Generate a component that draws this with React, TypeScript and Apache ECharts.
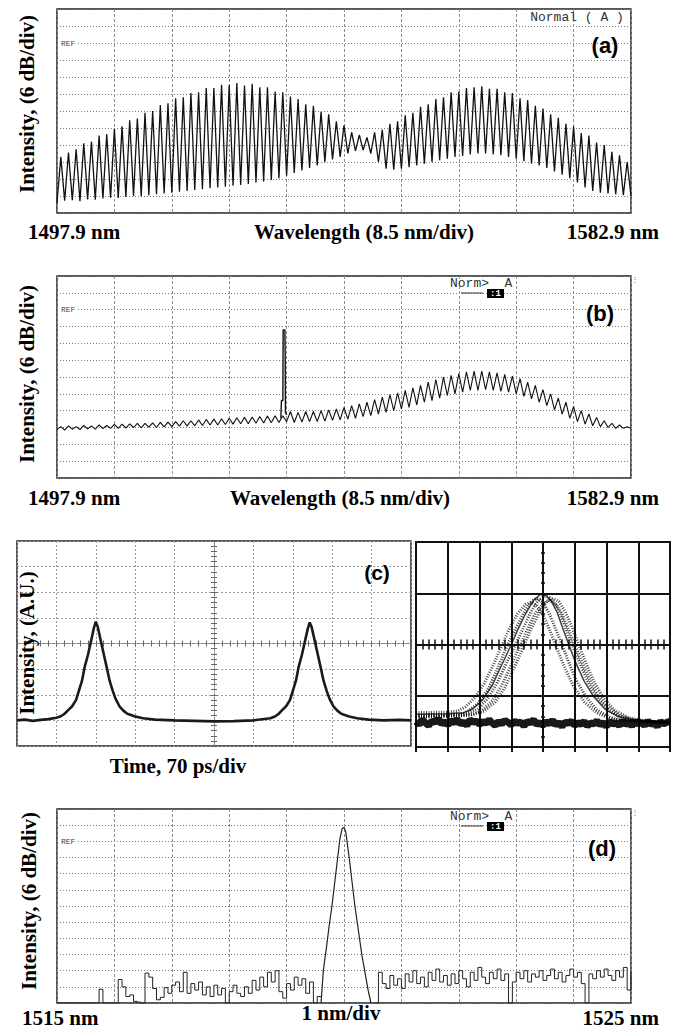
import React, { useEffect, useRef } from "react";
import * as echarts from "echarts";

// ---------- (a) fringe peak / trough levels (divisions from bottom, 12 div full scale) ----------
const aPeaks = [
  3.3, 3.55, 3.75, 4.1, 4.2, 4.55, 4.65, 4.95, 5.1, 5.45,
  5.55, 5.9, 6.0, 6.35, 6.45, 6.75, 6.8, 7.05, 7.1, 7.35,
  7.35, 7.55, 7.55, 7.65, 7.5, 7.6, 7.4, 7.4, 7.15, 7.1,
  6.85, 6.7, 6.4, 6.3, 5.95, 5.8, 5.4, 5.15, 4.75, 4.6,
  4.45, 4.75, 4.9, 5.25, 5.4, 5.75, 5.9, 6.25, 6.4, 6.7,
  6.8, 7.1, 7.15, 7.35, 7.4, 7.45, 7.3, 7.3, 7.1, 7.05,
  6.75, 6.65, 6.3, 6.15, 5.8, 5.6, 5.25, 5.1, 4.7, 4.55,
  4.15, 4.0, 3.6, 3.4, 3.0,
];
const aTroughs = [
  0.6, 0.72, 0.75, 0.7, 0.8, 0.78, 0.85, 0.9, 0.88, 0.95,
  1.0, 0.98, 1.05, 1.1, 1.15, 1.2, 1.25, 1.3, 1.35, 1.4,
  1.45, 1.5, 1.55, 1.6, 1.65, 1.7, 1.8, 1.85, 1.95, 2.05,
  2.2, 2.35, 2.5, 2.65, 2.8, 3.0, 3.15, 3.3, 3.5, 3.65,
  3.7, 3.5, 3.0, 2.6, 2.55, 2.6, 2.7, 2.8, 2.9, 3.0,
  3.1, 3.2, 3.3, 3.35, 3.45, 3.5, 3.5, 3.45, 3.4, 3.3,
  3.2, 3.05, 2.9, 2.8, 2.65, 2.45, 2.25, 2.05, 1.8, 1.5,
  1.3, 1.2, 1.15, 1.1, 1.05, 1.0,
];

// ---------- (b) fringe levels + lasing spike ----------
const bPeaks = [
  3.05, 3.1, 3.05, 3.12, 3.1, 3.15, 3.12, 3.18,
  3.2, 3.22, 3.25, 3.25, 3.28, 3.3, 3.32, 3.35,
  3.4, 3.4, 3.45, 3.48, 3.5, 3.52, 3.55,
  3.58, 3.6, 3.62, 3.65, 3.68, 3.7, 3.7,
  3.95, 3.9, 3.95, 3.95, 4.0, 4.05, 4.1, 4.2,
  4.3, 4.4, 4.5, 4.65, 4.8, 4.95, 5.05,
  5.2, 5.35, 5.5, 5.7, 5.85, 6.0, 6.1, 6.2,
  6.3, 6.35, 6.35, 6.3, 6.25, 6.15, 6.05,
  5.9, 5.7, 5.5, 5.25, 5.0, 4.75, 4.5,
  4.25, 4.0, 3.8, 3.6, 3.4, 3.25, 3.15, 3.05,
];
const bTroughs = [
  2.9, 2.85, 2.9, 2.88, 2.92, 2.9, 2.93, 2.95,
  2.95, 2.97, 3.0, 2.98, 3.02, 3.0, 3.04, 3.05,
  3.08, 3.1, 3.1, 3.12, 3.15, 3.15, 3.18,
  3.2, 3.22, 3.22, 3.25, 3.27, 3.28, 3.3,
  3.35,
  3.3, 3.32, 3.35, 3.35, 3.38, 3.42, 3.45,
  3.5, 3.55, 3.65, 3.7, 3.8, 3.9, 4.0,
  4.1, 4.2, 4.35, 4.5, 4.6, 4.75, 4.9, 5.0,
  5.1, 5.2, 5.2, 5.25, 5.2, 5.15, 5.1, 5.0,
  4.85, 4.7, 4.5, 4.3, 4.05, 3.8, 3.55,
  3.35, 3.2, 3.1, 3.05, 3.0, 2.95, 2.95, 2.95,
];
const bSpike = [
  [3.9, 3.55], [3.91, 4.6], [3.935, 4.6], [3.94, 8.8], [3.97, 8.8],
  [3.975, 7.4], [3.98, 3.9], [4.0, 3.75],
];

// ---------- (c) pulse train (centred units: x -5..5 div, y -4..4 div) ----------
const cTrace = [
  [-5.0, -3.0], [-4.8, -2.97], [-4.6, -3.02], [-4.4, -2.98], [-4.2, -2.95], [-4.0, -2.9],
  [-3.9, -2.85], [-3.8, -2.75], [-3.7, -2.6], [-3.6, -2.45], [-3.5, -2.2], [-3.43, -1.85],
  [-3.35, -1.45], [-3.28, -0.9], [-3.2, -0.45], [-3.12, 0.1], [-3.05, 0.6], [-3.0, 0.85],
  [-2.95, 0.65], [-2.88, 0.15], [-2.8, -0.4], [-2.72, -0.95], [-2.65, -1.45], [-2.57, -1.85],
  [-2.5, -2.15], [-2.4, -2.45], [-2.3, -2.62], [-2.2, -2.74], [-2.0, -2.85], [-1.8, -2.92],
  [-1.5, -2.97], [-1.0, -3.0], [-0.5, -3.02], [0.0, -3.04], [0.5, -3.03], [1.0, -3.0],
  [1.43, -2.92], [1.53, -2.86], [1.63, -2.76], [1.73, -2.6], [1.83, -2.45], [1.93, -2.2],
  [2.0, -1.85], [2.08, -1.45], [2.15, -0.9], [2.23, -0.45], [2.31, 0.1], [2.38, 0.58],
  [2.43, 0.82], [2.48, 0.63], [2.55, 0.15], [2.63, -0.4], [2.71, -0.95], [2.78, -1.45],
  [2.86, -1.85], [2.93, -2.15], [3.03, -2.45], [3.13, -2.62], [3.23, -2.74], [3.43, -2.85],
  [3.63, -2.92], [3.93, -2.97], [4.3, -3.0], [4.7, -2.98], [5.0, -3.0],
];

// ---------- (c) eye diagram (x -4..4 div, y -2..2 div) ----------
const eyePulseA = [
  [-4, -1.4], [-3, -1.38], [-2.6, -1.37], [-2.35, -1.3], [-2.05, -1.15], [-1.75, -0.9],
  [-1.45, -0.5], [-1.2, -0.12], [-1.05, 0.08], [-0.8, 0.38], [-0.55, 0.68], [-0.35, 0.85],
  [-0.2, 0.9], [0.0, 0.82], [0.2, 0.6], [0.4, 0.3], [0.58, 0.02], [0.8, -0.33],
  [1.05, -0.7], [1.35, -1.02], [1.7, -1.28], [2.1, -1.42], [2.6, -1.5], [3.2, -1.52], [4, -1.53],
];
const eyePulseB = [
  [-4, -1.36], [-3, -1.35], [-2.5, -1.33], [-2.2, -1.25], [-1.9, -1.08], [-1.6, -0.8],
  [-1.3, -0.4], [-1.02, -0.03], [-0.8, 0.28], [-0.55, 0.6], [-0.3, 0.86], [-0.1, 0.97],
  [0.05, 0.98], [0.25, 0.86], [0.45, 0.62], [0.62, 0.32], [0.8, 0.02], [1.02, -0.34],
  [1.3, -0.72], [1.6, -1.02], [1.95, -1.26], [2.35, -1.4], [2.8, -1.47], [3.4, -1.5], [4, -1.5],
];
const eyePulseC = [
  [-4, -1.38], [-3, -1.37], [-2.4, -1.35], [-2.05, -1.26], [-1.75, -1.06], [-1.45, -0.76],
  [-1.15, -0.36], [-0.85, 0.02], [-0.62, 0.32], [-0.38, 0.64], [-0.15, 0.86], [0.05, 0.94],
  [0.2, 0.92], [0.42, 0.76], [0.62, 0.48], [0.8, 0.18], [0.95, -0.05], [1.2, -0.42],
  [1.45, -0.78], [1.75, -1.08], [2.1, -1.3], [2.5, -1.43], [3.0, -1.49], [3.5, -1.51], [4, -1.52],
];
const eyePulseD = [
  [-4, -1.42], [-3, -1.4], [-2.3, -1.38], [-1.95, -1.3], [-1.6, -1.1], [-1.3, -0.8],
  [-1.0, -0.4], [-0.72, -0.02], [-0.5, 0.28], [-0.25, 0.6], [0.0, 0.8], [0.2, 0.86],
  [0.38, 0.8], [0.58, 0.62], [0.78, 0.34], [0.98, 0.02], [1.2, -0.3], [1.45, -0.66],
  [1.72, -0.98], [2.0, -1.2], [2.4, -1.38], [2.85, -1.47], [3.4, -1.51], [4, -1.54],
];
const eyePulseE = [
  [-4, -1.33], [-3, -1.32], [-2.7, -1.3], [-2.45, -1.22], [-2.15, -1.04], [-1.85, -0.76],
  [-1.55, -0.38], [-1.3, -0.02], [-1.05, 0.32], [-0.8, 0.6], [-0.55, 0.78], [-0.38, 0.82],
  [-0.2, 0.76], [0.0, 0.58], [0.2, 0.3], [0.4, -0.02], [0.65, -0.4], [0.95, -0.8],
  [1.3, -1.12], [1.7, -1.34], [2.2, -1.46], [3, -1.5], [4, -1.52],
];
const eyePulseF = [
  [-4, -1.4], [-3, -1.4], [-2.2, -1.37], [-1.85, -1.3], [-1.5, -1.12], [-1.2, -0.84],
  [-0.9, -0.44], [-0.62, -0.05], [-0.38, 0.3], [-0.12, 0.62], [0.12, 0.84], [0.32, 0.9],
  [0.5, 0.84], [0.7, 0.64], [0.9, 0.36], [1.1, 0.04], [1.35, -0.36], [1.6, -0.72],
  [1.9, -1.04], [2.25, -1.28], [2.7, -1.43], [3.3, -1.5], [4, -1.53],
];
const eyeZero = [
  -1.50, -1.56, -1.47, -1.53, -1.58, -1.49, -1.52, -1.45, -1.55, -1.5,
  -1.57, -1.48, -1.53, -1.46, -1.55, -1.51, -1.58, -1.47, -1.52, -1.49,
  -1.56, -1.5, -1.54, -1.47, -1.53, -1.58, -1.5, -1.55, -1.48, -1.52,
  -1.57, -1.49, -1.54, -1.51, -1.59, -1.5, -1.53, -1.47, -1.56, -1.52,
  -1.58, -1.5, -1.55, -1.48, -1.57, -1.52, -1.6, -1.51, -1.54, -1.49,
  -1.58, -1.52, -1.56, -1.5, -1.59, -1.53, -1.55, -1.49, -1.57, -1.52,
  -1.6, -1.5, -1.55, -1.53, -1.58, -1.49, -1.56, -1.52, -1.59, -1.5,
  -1.55, -1.52, -1.58, -1.49, -1.56, -1.53, -1.6, -1.5, -1.55, -1.52, -1.5,
];

// ---------- (d) noise floor (x = 0..10 div, 150 steps) + filtered line ----------
const dFloor = [
  0, 0, 0, 0, 0, 0, 0, 0, 0, 0,
  0, 0.85, 0, 0, 0, 0, 1.45, 1.0, 0.4, 0.5,
  0.1, 0.05, 0, 1.85, 1.6, 0.9, 0.2, 0.35, 0.95, 0.6,
  1.1, 1.3, 0.7, 1.9, 0.6, 1.2, 0.8, 1.3, 0.5, 1.0,
  0.4, 1.1, 0.5, 0.9, 0, 0.7, 1.1, 0.6, 0.4, 1.0,
  0.6, 1.4, 0.8, 1.6, 1.0, 1.9, 1.3, 2.0, 0.7, 0.3,
  1.2, 0.8, 1.6, 1.1, 1.5, 0.6, 1.3, 0, 0.4, null,
  null, null, null, null, null, null, null, null, null, null,
  null, null, null, 0, 1.9, 1.2, 0.9, 1.7, 1.1, 1.5,
  0.9, 1.8, 1.3, 2.0, 1.2, 1.6, 1.0, 1.9, 1.4, 2.1,
  1.3, 1.7, 1.1, 1.8, 1.2, 2.0, 1.5, 1.0, 1.9, 1.4,
  2.2, 1.6, 1.2, 1.9, 1.5, 2.1, 1.4, 1.8, 0, 1.3,
  1.9, 1.5, 2.0, 1.3, 1.8, 1.6, 2.0, 1.4, 1.7, 2.1,
  1.5, 1.9, 1.3, 1.7, 2.1, 1.6, 1.9, 1.2, 0, 1.8,
  1.5, 2.0, 1.6, 2.1, 1.7, 1.4, 2.0, 1.6, 2.2, 0.8, 2.0,
];
const dPeak = [
  [4.6, 0], [4.64, 2.0], [4.7, 3.6], [4.75, 5.0], [4.79, 6.0], [4.84, 7.5], [4.89, 9.0],
  [4.93, 10.2], [4.97, 10.8], [5.0, 10.85], [5.03, 10.6], [5.06, 9.8], [5.09, 9.0],
  [5.14, 7.5], [5.19, 6.0], [5.25, 4.5], [5.31, 3.0], [5.36, 2.0], [5.42, 0.8], [5.47, 0],
];

// ---------- helpers ----------
function fringeTrace(troughs: number[], peaks: number[]) {
  const p = 10 / peaks.length;
  const pts: number[][] = [];
  for (let i = 0; i < peaks.length; i++) {
    pts.push([i * p, troughs[i]]);
    pts.push([(i + 0.5) * p, peaks[i]]);
  }
  pts.push([peaks.length * p, troughs[peaks.length]]);
  return pts;
}

const SERIF = '"Liberation Serif", "Times New Roman", serif';
const SANS = '"Liberation Sans", Arial, sans-serif';
const MONO = '"Liberation Mono", "DejaVu Sans Mono", monospace';

const hidden = { axisLabel: { show: false } };

function osaX(g: number) {
  return {
    type: "value", gridIndex: g, min: 0, max: 10, interval: 1,
    axisLine: { show: false }, axisTick: { show: false }, ...hidden,
    splitLine: { show: true, lineStyle: { color: "#8e8e8e", type: [3, 2], width: 1 } },
  };
}
function osaY(g: number) {
  return {
    type: "value", gridIndex: g, min: 0, max: 12, interval: 1,
    axisLine: { show: false }, axisTick: { show: false }, ...hidden,
    splitLine: { show: true, lineStyle: { color: "#7a7a7a", type: [1, 2], width: 1 } },
  };
}

function txt(x: number, y: number, text: string, o: any = {}) {
  return {
    type: "text", x, y, rotation: o.rot || 0, z: 100,
    style: {
      text, fill: o.fill || "#000",
      fontSize: o.size || 21, fontFamily: o.family || SERIF,
      fontWeight: o.weight || "bold", align: o.align || "center",
      verticalAlign: "middle",
      backgroundColor: o.bg, padding: o.bg ? [0, 1] : 0,
    },
  };
}

function legendMark(y: number) {
  return [
    txt(450, y, "Norm>  A", { family: MONO, size: 13, weight: "normal", align: "left", fill: "#333" }),
    { type: "line", z: 100, shape: { x1: 461, y1: y + 10, x2: 483, y2: y + 10 }, style: { stroke: "#333", lineWidth: 1 } },
    { type: "rect", z: 100, shape: { x: 487, y: y + 6, width: 17, height: 9 }, style: { fill: "#000" } },
    txt(495.5, y + 10.5, ":1", { family: MONO, size: 9, weight: "bold", fill: "#fff" }),
  ];
}

function ref(y: number) {
  return txt(60, y, "REF", { family: MONO, size: 8, weight: "normal", align: "left", fill: "#444", bg: "#fff" });
}

export default function App() {
  const ref1 = useRef<HTMLDivElement>(null);
  useEffect(() => {
    if (!ref1.current) return;
    const chart = echarts.init(ref1.current, null, { renderer: "svg" });

    const cAxisLine = { show: true, onZero: true, lineStyle: { color: "#888", type: [3, 2], width: 1 } };
    const cTick = { show: true, length: 3, lineStyle: { color: "#666" } };
    const cMinor = { show: true, splitNumber: 5, length: 3, lineStyle: { color: "#666" } };
    const eAxisLine = { show: true, onZero: true, lineStyle: { color: "#111", width: 2 } };
    const eTick = { show: true, length: 5, lineStyle: { color: "#111", width: 1.5 } };
    const eMinor = { show: true, splitNumber: 5, length: 5, lineStyle: { color: "#111", width: 1.5 } };
    const eyTick = { show: true, length: 2, lineStyle: { color: "#111", width: 1.5 } };
    const eyMinor = { show: true, splitNumber: 5, length: 2, lineStyle: { color: "#111", width: 1.5 } };
    const eSplit = { show: true, lineStyle: { color: "#111", width: 2 } };

    const pulseStyle = (w: number, c: string, t: any = "solid") => ({
      type: "line", xAxisIndex: 4, yAxisIndex: 4, symbol: "none", silent: true,
      lineStyle: { width: w, color: c, type: t },
    });
    const speck = [1, 1.5];

    const option: any = {
      animation: false,
      backgroundColor: "#fff",
      grid: [
        { left: 57, top: 9, width: 574, height: 204, show: true, borderColor: "#222", borderWidth: 1.5 },
        { left: 57, top: 276, width: 574, height: 202, show: true, borderColor: "#222", borderWidth: 1.5 },
        { left: 17, top: 541, width: 394, height: 205, show: true, borderColor: "#222", borderWidth: 1.5 },
        { left: 416, top: 542, width: 254, height: 205, show: true, borderColor: "#111", borderWidth: 2 },
        { left: 57, top: 809, width: 574, height: 194, show: true, borderColor: "#222", borderWidth: 1.5 },
      ],
      xAxis: [
        osaX(0),
        osaX(1),
        { type: "value", gridIndex: 2, min: -5, max: 5, interval: 1, position: "bottom",
          axisLine: cAxisLine, axisTick: cTick, minorTick: cMinor, ...hidden,
          splitLine: { show: true, lineStyle: { color: "#9a9a9a", type: [2, 2] } } },
        { type: "value", gridIndex: 2, min: -5, max: 5, interval: 1, position: "top",
          axisLine: cAxisLine, axisTick: cTick, minorTick: cMinor, ...hidden, splitLine: { show: false } },
        { type: "value", gridIndex: 3, min: -4, max: 4, interval: 1, position: "bottom",
          axisLine: eAxisLine, axisTick: eTick, minorTick: eMinor, ...hidden, splitLine: eSplit },
        { type: "value", gridIndex: 3, min: -4, max: 4, interval: 1, position: "top",
          axisLine: eAxisLine, axisTick: eTick, minorTick: eMinor, ...hidden, splitLine: { show: false } },
        { type: "value", gridIndex: 3, min: -4, max: 4, interval: 1, position: "bottom",
          axisLine: { show: false, onZero: false }, axisTick: { show: true, length: 5, lineStyle: { color: "#111", width: 2 } },
          ...hidden, splitLine: { show: false } },
        osaX(4),
      ],
      yAxis: [
        osaY(0),
        osaY(1),
        { type: "value", gridIndex: 2, min: -4, max: 4, interval: 1, position: "left",
          axisLine: cAxisLine, axisTick: cTick, minorTick: cMinor, ...hidden,
          splitLine: { show: true, lineStyle: { color: "#9a9a9a", type: [2, 2] } } },
        { type: "value", gridIndex: 2, min: -4, max: 4, interval: 1, position: "right",
          axisLine: cAxisLine, axisTick: cTick, minorTick: cMinor, ...hidden, splitLine: { show: false } },
        { type: "value", gridIndex: 3, min: -2, max: 2, interval: 1, position: "left",
          axisLine: eAxisLine, axisTick: eyTick, minorTick: eyMinor, ...hidden, splitLine: eSplit },
        { type: "value", gridIndex: 3, min: -2, max: 2, interval: 1, position: "right",
          axisLine: eAxisLine, axisTick: eyTick, minorTick: eyMinor, ...hidden, splitLine: { show: false } },
        osaY(4),
      ],
      series: [
        { type: "line", xAxisIndex: 0, yAxisIndex: 0, symbol: "none", silent: true,
          data: fringeTrace(aTroughs, aPeaks), lineStyle: { width: 1.3, color: "#111" } },
        { type: "line", xAxisIndex: 1, yAxisIndex: 1, symbol: "none", silent: true,
          data: fringeTrace(bTroughs, bPeaks), lineStyle: { width: 1.1, color: "#111" } },
        { type: "line", xAxisIndex: 1, yAxisIndex: 1, symbol: "none", silent: true,
          data: bSpike, lineStyle: { width: 1.4, color: "#111" } },
        { type: "line", xAxisIndex: 2, yAxisIndex: 2, symbol: "none", silent: true,
          data: cTrace, lineStyle: { width: 2.6, color: "#1a1a1a" } },
        { ...pulseStyle(3, "rgba(0,0,0,0.7)", speck), data: eyePulseE },
        { ...pulseStyle(3, "rgba(0,0,0,0.75)", speck), data: eyePulseA },
        { ...pulseStyle(1.5, "rgba(0,0,0,0.75)"), data: eyePulseB },
        { ...pulseStyle(3, "rgba(0,0,0,0.75)", speck), data: eyePulseC },
        { ...pulseStyle(3, "rgba(0,0,0,0.7)", speck), data: eyePulseD },
        { ...pulseStyle(3, "rgba(0,0,0,0.7)", speck), data: eyePulseF },
        { ...pulseStyle(7, "rgba(0,0,0,0.9)"), data: eyeZero.map((v, i) => [-4 + i * 0.1, v]) },
        { type: "line", xAxisIndex: 7, yAxisIndex: 6, symbol: "none", silent: true, step: "end",
          connectNulls: false,
          data: dFloor.map((v, i) => [(i * 10) / (dFloor.length - 1), v]),
          lineStyle: { width: 1, color: "#222" } },
        { type: "line", xAxisIndex: 7, yAxisIndex: 6, symbol: "none", silent: true,
          data: dPeak, lineStyle: { width: 1.2, color: "#222" } },
      ],
      graphic: [
        // (a)
        txt(28, 232, "1497.9 nm", { align: "left" }),
        txt(364, 232, "Wavelength (8.5 nm/div)"),
        txt(659, 232, "1582.9 nm", { align: "right" }),
        txt(27, 104, "Intensity, (6 dB/div)", { rot: Math.PI / 2 }),
        txt(605, 45, "(a)", { family: SANS, size: 22 }),
        txt(577, 17, "Normal ( A )", { family: MONO, size: 13, weight: "normal", fill: "#333" }),
        ref(43),
        // (b)
        txt(28, 498, "1497.9 nm", { align: "left" }),
        txt(340, 498, "Wavelength (8.5 nm/div)"),
        txt(659, 498, "1582.9 nm", { align: "right" }),
        txt(27, 374, "Intensity, (6 dB/div)", { rot: Math.PI / 2 }),
        txt(600, 313, "(b)", { family: SANS, size: 22 }),
        ...legendMark(283),
        ref(309),
        txt(635, 279, "⋮", { family: SANS, size: 8, weight: "normal", fill: "#666" }),
        // (c)
        txt(178, 766, "Time, 70 ps/div"),
        txt(27, 643, "Intensity, (A.U.)", { rot: Math.PI / 2 }),
        txt(377, 572, "(c)", { family: SANS, size: 21 }),
        // (d)
        txt(22, 1018, "1515 nm", { align: "left" }),
        txt(341, 1013, "1 nm/div"),
        txt(659, 1018, "1525 nm", { align: "right" }),
        txt(29, 901, "Intensity, (6 dB/div)", { rot: Math.PI / 2 }),
        txt(602, 848, "(d)", { family: SANS, size: 22 }),
        ...legendMark(816),
        ref(841),
        txt(635, 812, "⋮", { family: SANS, size: 8, weight: "normal", fill: "#666" }),
      ],
    };
    chart.setOption(option);
    return () => chart.dispose();
  }, []);

  return (
    <div
      ref={ref1}
      style={{ position: "absolute", left: 0, top: 0, width: 682, height: 1031, background: "#fff" }}
    />
  );
}
